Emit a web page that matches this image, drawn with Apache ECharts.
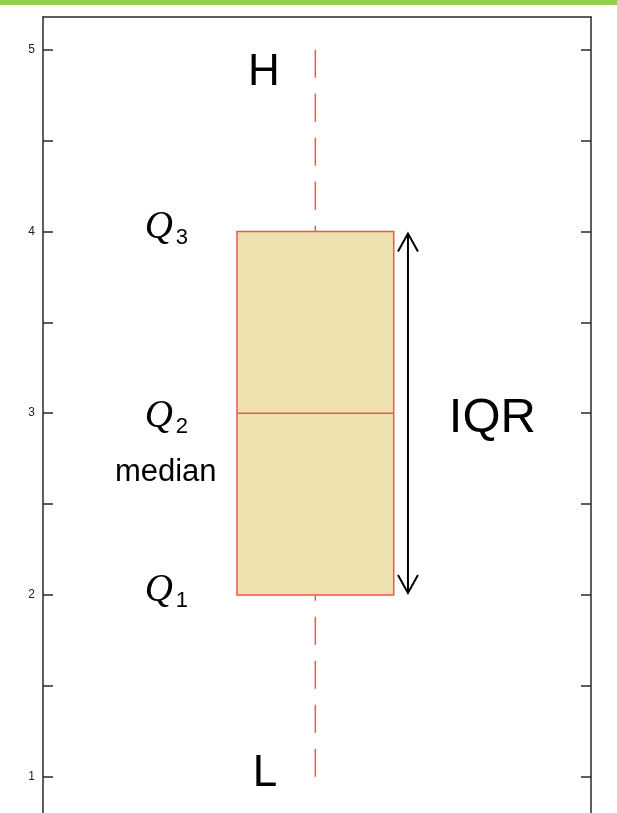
<!DOCTYPE html>
<html>
<head>
<meta charset="utf-8">
<script src="https://cdn.jsdelivr.net/npm/echarts@6/dist/echarts.min.js"></script>
<style>
  html, body { margin: 0; padding: 0; background: #fff; }
  #chart { width: 617px; height: 813px; }
</style>
</head>
<body>
<div id="chart"></div>
<script>
// five-number summary of the sample
const categories = ['sample'];
const lowValues = [1];
const q1Values = [2];
const medianValues = [3];
const q3Values = [4];
const highValues = [5];

// y axis ticks (minor every 0.5, labels on integers)
const yTickValues = [1, 1.5, 2, 2.5, 3, 3.5, 4, 4.5, 5];
const yLabelValues = [1, 2, 3, 4, 5];

// annotation texts
const highLabel = 'H';
const lowLabel = 'L';
const iqrLabel = 'IQR';
const medianLabel = 'median';
const quartileLabels = ['1', '2', '3'];

const BOX_X = 0.497;
const BOX_HALF = 0.143;
const ARROW_X = 0.666;
const Q_X = 0.215;

const myChart = echarts.init(document.getElementById('chart'));

function renderBox(params, api) {
    const low = api.value(1), q1 = api.value(2), med = api.value(3),
          q3 = api.value(4), high = api.value(5);
    const tl = api.coord([BOX_X - BOX_HALF, q3]);
    const br = api.coord([BOX_X + BOX_HALF, q1]);
    const cx = api.coord([BOX_X, med])[0];
    const yMed = api.coord([BOX_X, med])[1];
    const yHigh = api.coord([BOX_X, high])[1];
    const yLow = api.coord([BOX_X, low])[1];
    const ax = api.coord([ARROW_X, q3])[0];
    const qx = api.coord([Q_X, q3])[0];
    const red = '#F25454';
    const dash = [28, 16];
    const sans = '"Liberation Sans", Arial, sans-serif';
    const serif = 'italic 39px "Liberation Serif", "DejaVu Serif", serif';

    function qLabel(sub, y) {
        return [
            { type: 'text', x: qx - 2, y: y - 4,
              style: { text: 'Q', font: serif, fill: '#000', align: 'center', verticalAlign: 'middle' } },
            { type: 'text', x: qx + 21, y: y + 6,
              style: { text: sub, font: '22px ' + sans, fill: '#000', align: 'center', verticalAlign: 'middle' } }
        ];
    }

    const children = [
        { type: 'rect', shape: { x: tl[0], y: tl[1], width: br[0] - tl[0], height: br[1] - tl[1] },
          style: { fill: '#EDE2B0', stroke: red, lineWidth: 1.5 } },
        { type: 'line', shape: { x1: tl[0], y1: yMed, x2: br[0], y2: yMed },
          style: { stroke: red, lineWidth: 1.5 } },
        { type: 'line', shape: { x1: cx, y1: yHigh, x2: cx, y2: tl[1] },
          style: { stroke: red, lineWidth: 1.5, lineDash: dash } },
        { type: 'line', shape: { x1: cx, y1: yLow, x2: cx, y2: br[1] },
          style: { stroke: red, lineWidth: 1.5, lineDash: dash } },
        // IQR arrow
        { type: 'line', shape: { x1: ax, y1: tl[1] + 2, x2: ax, y2: br[1] - 2 },
          style: { stroke: '#000', lineWidth: 2 } },
        { type: 'polyline', shape: { points: [[ax - 10, tl[1] + 20], [ax, tl[1] + 2], [ax + 10, tl[1] + 20]] },
          style: { stroke: '#000', lineWidth: 2, fill: null } },
        { type: 'polyline', shape: { points: [[ax - 10, br[1] - 20], [ax, br[1] - 2], [ax + 10, br[1] - 20]] },
          style: { stroke: '#000', lineWidth: 2, fill: null } },
        { type: 'text', x: api.coord([0.82, med])[0], y: yMed + 5,
          style: { text: iqrLabel, font: '49px ' + sans, fill: '#000', align: 'center', verticalAlign: 'middle' } },
        { type: 'text', x: api.coord([0.403, high])[0], y: yHigh + 23,
          style: { text: highLabel, font: '44px ' + sans, fill: '#000', align: 'center', verticalAlign: 'middle' } },
        { type: 'text', x: api.coord([0.405, low])[0], y: yLow - 3,
          style: { text: lowLabel, font: '44px ' + sans, fill: '#000', align: 'center', verticalAlign: 'middle' } },
        { type: 'text', x: api.coord([0.224, med])[0], y: yMed + 59,
          style: { text: medianLabel, font: '31px ' + sans, fill: '#000', align: 'center', verticalAlign: 'middle' } }
    ]
    .concat(qLabel(quartileLabels[2], tl[1]))
    .concat(qLabel(quartileLabels[1], yMed + 8))
    .concat(qLabel(quartileLabels[0], br[1]));

    return { type: 'group', children: children };
}

const yAxisBase = {
    type: 'value',
    min: 0.8,
    max: 5.18,
    splitLine: { show: false },
    axisLine: { show: true, lineStyle: { color: '#2a2a2a', width: 1.5 } },
    axisTick: { show: true, inside: true, length: 10, customValues: yTickValues,
                lineStyle: { color: '#2a2a2a', width: 1.5 } }
};

myChart.setOption({
    animation: false,
    backgroundColor: '#fff',
    grid: { left: 43, right: 26, top: 17, bottom: -3 },
    xAxis: {
        type: 'value', min: 0, max: 1, position: 'top',
        axisLine: { show: true, onZero: false, lineStyle: { color: '#2a2a2a', width: 1.5 } },
        axisTick: { show: false }, axisLabel: { show: false }, splitLine: { show: false }
    },
    yAxis: [
        Object.assign({}, yAxisBase, {
            position: 'left',
            axisLabel: { show: true, customValues: yLabelValues, margin: 8,
                         fontSize: 12, color: '#222', fontFamily: 'Arial, "Liberation Sans", sans-serif' }
        }),
        Object.assign({}, yAxisBase, {
            position: 'right',
            axisLabel: { show: false }
        })
    ],
    graphic: [{
        type: 'rect', left: 0, top: 0, shape: { width: 617, height: 5 },
        style: { fill: '#92D050' }
    }],
    series: [{
        type: 'custom',
        name: categories[0],
        renderItem: renderBox,
        clip: false,
        data: categories.map((c, i) => [i, lowValues[i], q1Values[i], medianValues[i], q3Values[i], highValues[i]]),
        encode: { x: 0, y: [1, 2, 3, 4, 5] }
    }]
});
</script>
</body>
</html>
